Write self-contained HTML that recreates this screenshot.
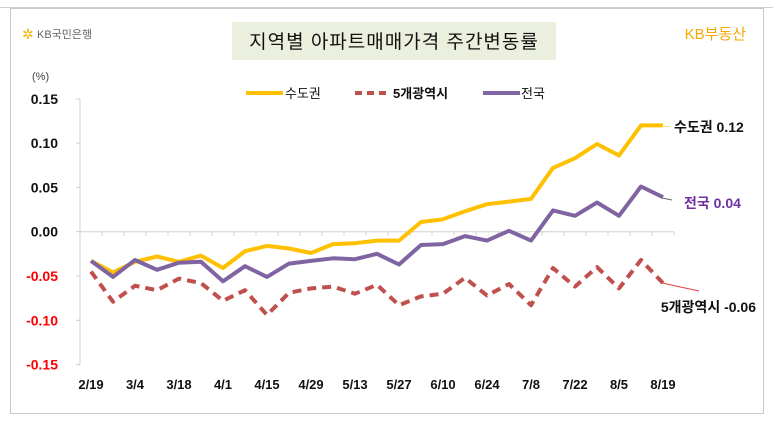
<!DOCTYPE html>
<html><head><meta charset="utf-8"><style>
body{margin:0;background:#fff;font-family:"Liberation Sans","Noto Sans CJK KR",sans-serif;}
#wrap{position:relative;width:773px;height:425px;overflow:hidden;}
</style></head><body>
<div id="wrap">
<svg id="chart" width="773" height="425" xmlns="http://www.w3.org/2000/svg" font-family="Liberation Sans, Noto Sans CJK KR, sans-serif">
<line x1="0" y1="7.5" x2="773" y2="7.5" stroke="#d0d0d0"/>
<rect x="10.5" y="8.5" width="753" height="405" fill="#fff" stroke="#c8c8c8"/>
<text x="22" y="39" font-size="14" fill="#f5b400">✲</text>
<text x="37" y="38" font-size="11" fill="#666">KB국민은행</text>
<rect x="232" y="22" width="324" height="38" fill="#ebf0de"/>
<text x="394" y="48" font-size="19" text-anchor="middle" fill="#111" letter-spacing="1">지역별 아파트매매가격 주간변동률</text>
<text x="746" y="39" font-size="15" text-anchor="end" fill="#f5a800">KB부동산</text>
<text x="32" y="80" font-size="11" fill="#444">(%)</text>
<g id="legend">
<line x1="246" y1="93" x2="283" y2="93" stroke="#ffc000" stroke-width="4"/>
<text x="285" y="98" font-size="13" fill="#111">수도권</text>
<line x1="355" y1="93" x2="391" y2="93" stroke="#c0504d" stroke-width="4" stroke-dasharray="7,5"/>
<text x="393" y="98" font-size="13" font-weight="bold" fill="#111">5개광역시</text>
<line x1="483" y1="93" x2="520" y2="93" stroke="#8064a2" stroke-width="4"/>
<text x="521" y="98" font-size="13" fill="#111">전국</text>
</g>
<g id="axes"></g>
<g id="series"></g>
<line x1="662" y1="126.5" x2="670" y2="126.5" stroke="#ffe080"/>
<text x="674" y="132" font-size="14" font-weight="bold" fill="#111">수도권 0.12</text>
<line x1="662" y1="198" x2="672" y2="200" stroke="#666"/>
<text x="684" y="208" font-size="14" font-weight="bold" fill="#7030a0">전국 0.04</text>
<line x1="662" y1="283" x2="699" y2="291" stroke="#e04040"/>
<text x="756" y="312" font-size="14" font-weight="bold" text-anchor="end" fill="#111">5개광역시 -0.06</text>
</svg>
</div>
<script>
const categories=["2/19","2/26","3/4","3/11","3/18","3/25","4/1","4/8","4/15","4/22","4/29","5/6","5/13","5/20","5/27","6/3","6/10","6/17","6/24","7/1","7/8","7/15","7/22","7/29","8/5","8/12","8/19"];
const capitalValues=[-0.033,-0.046,-0.034,-0.028,-0.034,-0.027,-0.041,-0.022,-0.016,-0.019,-0.024,-0.014,-0.013,-0.010,-0.010,0.011,0.014,0.023,0.031,0.034,0.037,0.072,0.083,0.099,0.086,0.120,0.120];
const metroValues=[-0.045,-0.079,-0.061,-0.066,-0.053,-0.058,-0.078,-0.066,-0.094,-0.069,-0.064,-0.062,-0.070,-0.060,-0.083,-0.073,-0.070,-0.052,-0.072,-0.059,-0.083,-0.041,-0.062,-0.040,-0.064,-0.032,-0.058];
const nationalValues=[-0.033,-0.051,-0.032,-0.043,-0.035,-0.034,-0.056,-0.039,-0.051,-0.036,-0.033,-0.030,-0.031,-0.025,-0.037,-0.015,-0.014,-0.005,-0.010,0.001,-0.010,0.024,0.018,0.033,0.018,0.051,0.039];
const yTicks=[0.15,0.10,0.05,0.00,-0.05,-0.10,-0.15];
const yTickLabels=["0.15","0.10","0.05","0.00","-0.05","-0.10","-0.15"];
const xLabelEvery=2;

const NS="http://www.w3.org/2000/svg";
const X0=80,STEP=22,Y0=231.7,YS=885.7;
function xPos(i){return X0+STEP*(i+0.5);}
function yPos(v){return Y0-v*YS;}
function mk(tag,attrs,parent){const e=document.createElementNS(NS,tag);for(const k in attrs)e.setAttribute(k,attrs[k]);parent.appendChild(e);return e;}
const axes=document.getElementById('axes'),series=document.getElementById('series');
const yAxis=mk('line',{x1:X0,y1:yPos(0.15),x2:X0,y2:yPos(-0.15),stroke:'#d0d0d0'},axes);


yTicks.forEach((v,i)=>{
  const t=mk('line',{x1:X0-4,y1:yPos(v),x2:X0,y2:yPos(v),stroke:'#d0d0d0'},axes);
  
  
  const l=mk('text',{x:58,y:yPos(v)+5,'font-size':14,'font-weight':'bold','text-anchor':'end',fill:v<0?'#ff0000':'#111'},axes);
  l.textContent=yTickLabels[i];
  
  
});
const xEnd=X0+STEP*categories.length;
const xAxis=mk('line',{x1:X0,y1:yPos(0),x2:xEnd,y2:yPos(0),stroke:'#d0d0d0'},axes);


categories.forEach((c,i)=>{
  const t=mk('line',{x1:X0+STEP*(i+1),y1:yPos(0),x2:X0+STEP*(i+1),y2:yPos(0)+4,stroke:'#d0d0d0'},axes);
  
  
  if(i%xLabelEvery===0){
    const l=mk('text',{x:xPos(i),y:389,'font-size':13,'font-weight':'bold','text-anchor':'middle',fill:'#111'},axes);
    l.textContent=c;
    
    
  }
});
function pts(vals){return vals.map((v,i)=>xPos(i).toFixed(1)+','+yPos(v).toFixed(1)).join(' ');}
const lm=mk('polyline',{points:pts(metroValues),fill:'none',stroke:'#c0504d','stroke-width':4,'stroke-dasharray':'9,6','stroke-linejoin':'round'},series);


const lc=mk('polyline',{points:pts(capitalValues),fill:'none',stroke:'#ffc000','stroke-width':4,'stroke-linejoin':'round'},series);


const ln=mk('polyline',{points:pts(nationalValues),fill:'none',stroke:'#8064a2','stroke-width':4,'stroke-linejoin':'round'},series);


</script>
</body></html>
